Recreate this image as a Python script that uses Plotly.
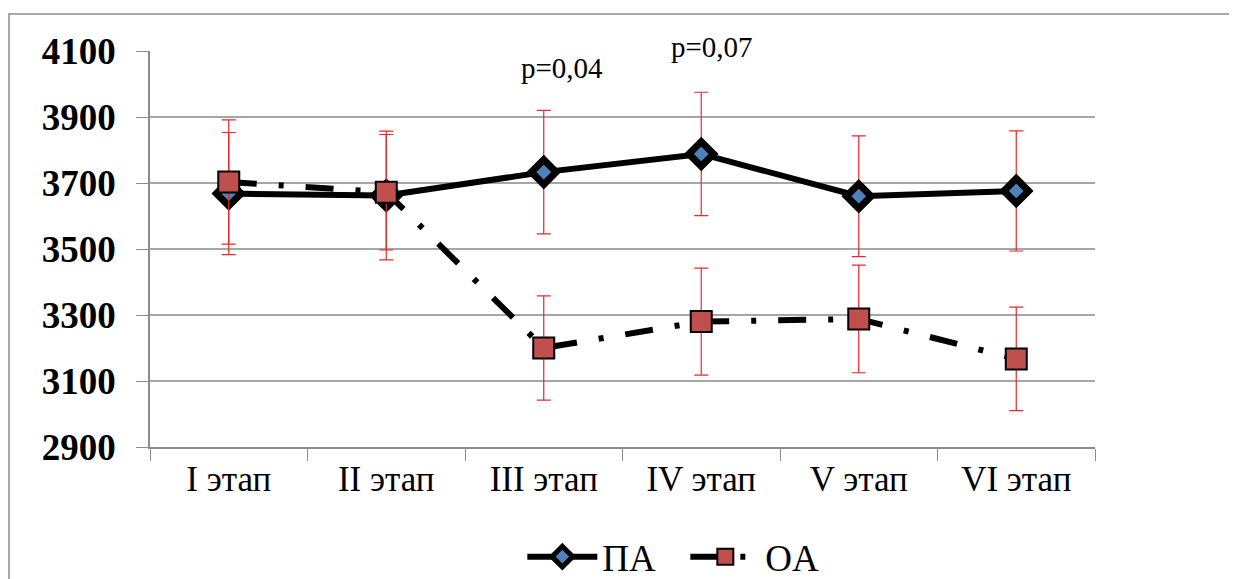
import plotly.graph_objects as go

categories = ["I этап", "II этап", "III этап", "IV этап", "V этап", "VI этап"]
pa_values = [3668, 3662, 3733, 3788, 3660, 3676]
pa_errors = [185, 195, 187, 187, 183, 182]
oa_values = [3703, 3672, 3200, 3280, 3288, 3167]
oa_errors = [188, 175, 158, 162, 163, 157]
y_ticks = [2900, 3100, 3300, 3500, 3700, 3900, 4100]
p_labels = ["p=0,04", "p=0,07"]
p_categories = ["III этап", "IV этап"]
p_paper_y = [0.957, 1.010]
p_shift = [18, 11]

fig = go.Figure()

fig.add_trace(go.Scatter(
    x=categories, y=pa_values, name="ПА", mode="lines+markers",
    line=dict(color="black", width=6),
    marker=dict(symbol="diamond", size=19, color="#4F81BD",
                line=dict(color="black", width=7)),
    error_y=dict(type="data", array=pa_errors, color="#E8282B", thickness=1.2, width=7),
))
fig.add_trace(go.Scatter(
    x=categories, y=oa_values, name="OA", mode="lines+markers",
    line=dict(color="black", width=6, dash="28px,22px,5px,22px"),
    marker=dict(symbol="square", size=21, color="#C0504D",
                line=dict(color="black", width=2)),
    error_y=dict(type="data", array=oa_errors, color="#E8282B", thickness=1.2, width=7),
))

for txt, cat, py, sh in zip(p_labels, p_categories, p_paper_y, p_shift):
    fig.add_annotation(x=cat, xref="x", y=py, yref="paper", text=txt, showarrow=False,
                       font=dict(family="Liberation Serif", size=29, color="black"),
                       xshift=sh, yanchor="middle")

fig.add_shape(type="rect", xref="paper", yref="paper",
              x0=-141/945, y0=-200/396, x1=1.5, y1=1 + 37/396,
              line=dict(color="#8c8c8c", width=1.5), layer="below")

fig.update_layout(
    width=1229, height=571,
    margin=dict(l=142, r=142, t=43, b=132, autoexpand=False),
    paper_bgcolor="white", plot_bgcolor="white",
    showlegend=True,
    legend=dict(orientation="h", x=0.394, xanchor="left", y=-0.278, yanchor="middle",
                font=dict(family="Liberation Serif", size=37, color="black"),
                itemwidth=70, entrywidth=78, entrywidthmode="pixels"),
    xaxis=dict(
        type="category", tickson="boundaries", ticks="outside", ticklen=12,
        tickcolor="#8c8c8c", showline=True, linecolor="#8c8c8c", linewidth=1.5,
        showgrid=False, range=[-0.5, 5.5],
        tickfont=dict(family="Liberation Serif", size=35, color="black"),
    ),
    yaxis=dict(
        range=[2900, 4100], tickvals=y_ticks, ticks="outside", ticklen=12,
        tickcolor="#8c8c8c", showline=True, linecolor="#8c8c8c", linewidth=1.5,
        showgrid=True, gridcolor="#a6a6a6", gridwidth=1.5, zeroline=False,
        tickfont=dict(family="Liberation Serif", size=37, color="black", weight="bold"),
        ticklabelstandoff=13,
    ),
)

fig.write_html("out.html")
